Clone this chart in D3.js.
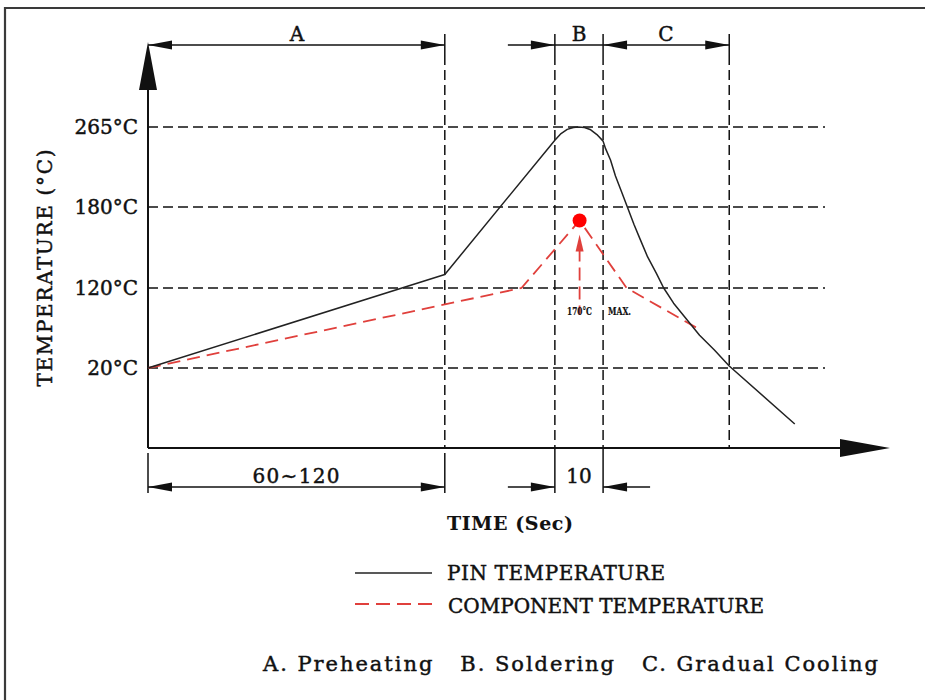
<!DOCTYPE html>
<html>
<head>
<meta charset="utf-8">
<script src="https://cdn.jsdelivr.net/npm/d3@7"></script>
<style>
  body { margin: 0; background: #fff; }
  text { font-family: "DejaVu Serif", serif; fill: #111; stroke: #111; stroke-width: 0.45px; }
</style>
</head>
<body>
<script>
// temperature levels marked on the axis (°C)
var tempTicks = [20, 120, 180, 265];
var tickLabels = ["20°C", "120°C", "180°C", "265°C"];

// stage boundaries on the time axis (schematic units)
var stageBounds = [0, 120, 164.5, 184, 235];

// pin temperature profile
var pinTime = [0, 120, 164.5, 167, 169.5, 172, 174, 176.5, 179, 181.5, 184, 185, 187, 189, 191.5, 194, 196.5, 199, 202, 205.5, 208.5, 212.5, 218, 223, 229, 235, 261.5];
var pinTemp = [20, 130, 251, 258, 262.5, 264.5, 265, 264.5, 262, 257, 250, 242, 230, 213, 196, 179, 167, 156, 143, 131, 120, 101, 80, 61, 42.5, 22.5, 6];

// component temperature profile
var compTime = [0, 151, 174.5, 193.5, 222];
var compTemp = [20, 120, 170, 120, 70];

var peakTime = 174.5, peakTemp = 170;

var W = 925, H = 700;
var svg = d3.select("body").append("svg")
    .attr("width", W).attr("height", H);

var x = d3.scaleLinear().domain([0, 300]).range([148, 890]);
var y = d3.scaleLinear().domain([0, 20, 120, 180, 265]).range([448, 368, 288, 207, 127]);

var ink = "#111";
var red = "#e0403c";
var gridEnd = 825;
var dimTop = 45, dimBot = 487;

// page frame
svg.append("path")
    .attr("d", "M5," + H + "V8H" + W)
    .attr("fill", "none").attr("stroke", "#3a3a3a").attr("stroke-width", 2.2);

// horizontal dashed levels
svg.selectAll(".hgrid").data(tempTicks).enter().append("line")
    .attr("x1", x(0)).attr("x2", gridEnd)
    .attr("y1", function(d){ return y(d); }).attr("y2", function(d){ return y(d); })
    .attr("stroke", ink).attr("stroke-width", 1.5).attr("stroke-dasharray", "10,5");

// vertical dashed stage lines
svg.selectAll(".vgrid").data(stageBounds.slice(1)).enter().append("line")
    .attr("x1", function(d){ return x(d); }).attr("x2", function(d){ return x(d); })
    .attr("y1", dimTop + 10).attr("y2", y(0))
    .attr("stroke", ink).attr("stroke-width", 1.5).attr("stroke-dasharray", "10,5");

// top extension ticks
svg.selectAll(".ttick").data(stageBounds.slice(1)).enter().append("line")
    .attr("x1", function(d){ return x(d); }).attr("x2", function(d){ return x(d); })
    .attr("y1", dimTop - 11).attr("y2", dimTop + 10)
    .attr("stroke", ink).attr("stroke-width", 1.5);

// bottom extension ticks (first four boundaries)
svg.selectAll(".btick").data(stageBounds.slice(0, 4)).enter().append("line")
    .attr("x1", function(d){ return x(d); }).attr("x2", function(d){ return x(d); })
    .attr("y1", function(d, i){ return i < 2 ? y(0) + 5 : y(0); }).attr("y2", dimBot + 6)
    .attr("stroke", ink).attr("stroke-width", 1.5);

function arrowHead(tipX, tipY, dir, len, hw) {
    // dir: 1 = pointing right, -1 = pointing left
    var b = tipX - dir * len;
    svg.append("path")
        .attr("d", "M" + tipX + "," + tipY + "L" + b + "," + (tipY - hw) + "L" + b + "," + (tipY + hw) + "Z")
        .attr("fill", ink);
}
function dimLine(x1, x2, yy) {
    svg.append("line").attr("x1", x1).attr("x2", x2).attr("y1", yy).attr("y2", yy)
        .attr("stroke", ink).attr("stroke-width", 1.5);
}

// top dimension: A
dimLine(x(stageBounds[0]), x(stageBounds[1]), dimTop);
arrowHead(x(stageBounds[0]), dimTop, -1, 24, 4.5);
arrowHead(x(stageBounds[1]), dimTop, 1, 24, 4.5);
// B (outside arrow)
dimLine(x(stageBounds[2]) - 47, x(stageBounds[2]), dimTop);
arrowHead(x(stageBounds[2]), dimTop, 1, 24, 4.5);
dimLine(x(stageBounds[2]), x(stageBounds[3]), dimTop);
// C
dimLine(x(stageBounds[3]), x(stageBounds[4]), dimTop);
arrowHead(x(stageBounds[3]), dimTop, -1, 24, 4.5);
arrowHead(x(stageBounds[4]), dimTop, 1, 24, 4.5);

// bottom dimension: 60~120
dimLine(x(stageBounds[0]), x(stageBounds[1]), dimBot);
arrowHead(x(stageBounds[0]), dimBot, -1, 24, 4.5);
arrowHead(x(stageBounds[1]), dimBot, 1, 24, 4.5);
// 10
dimLine(x(stageBounds[2]) - 47, x(stageBounds[2]), dimBot);
arrowHead(x(stageBounds[2]), dimBot, 1, 24, 4.5);
dimLine(x(stageBounds[3]), x(stageBounds[3]) + 47, dimBot);
arrowHead(x(stageBounds[3]), dimBot, -1, 24, 4.5);

// axes
svg.append("line").attr("x1", x(0)).attr("x2", x(0)).attr("y1", y(0)).attr("y2", 86)
    .attr("stroke", ink).attr("stroke-width", 2);
svg.append("path").attr("d", "M" + x(0) + ",42L" + (x(0) - 9) + ",90L" + (x(0) + 9) + ",90Z").attr("fill", ink);
svg.append("line").attr("x1", x(0)).attr("x2", x(300) - 48).attr("y1", y(0)).attr("y2", y(0))
    .attr("stroke", ink).attr("stroke-width", 2);
arrowHead(x(300), y(0), 1, 50, 9);

// tick labels
svg.selectAll(".tl").data(tempTicks).enter().append("text")
    .attr("x", 138).attr("y", function(d){ return y(d); }).attr("dy", "0.36em")
    .attr("text-anchor", "end").attr("font-size", 20)
    .text(function(d, i){ return tickLabels[i]; });

// curves
var pinData = pinTime.map(function(t, i){ return [t, pinTemp[i]]; });
var compData = compTime.map(function(t, i){ return [t, compTemp[i]]; });
var line = d3.line().x(function(d){ return x(d[0]); }).y(function(d){ return y(d[1]); });

svg.append("path").datum(compData).attr("d", line)
    .attr("fill", "none").attr("stroke", red).attr("stroke-width", 1.8).attr("stroke-dasharray", "13,7");
svg.append("path").datum(pinData).attr("d", line)
    .attr("fill", "none").attr("stroke", "#222").attr("stroke-width", 1.5).attr("stroke-linejoin", "round");

// peak marker and arrow
var px = x(peakTime), py = y(peakTemp);
svg.append("circle").attr("cx", px).attr("cy", py).attr("r", 7).attr("fill", "#f00");
svg.append("line").attr("x1", px).attr("x2", px).attr("y1", py + 28).attr("y2", y(120) + 27)
    .attr("stroke", red).attr("stroke-width", 1.8).attr("stroke-dasharray", "13,6");
svg.append("path").attr("d", "M" + px + "," + (py + 14) + "L" + (px - 4) + "," + (py + 31) + "L" + (px + 4) + "," + (py + 31) + "Z")
    .attr("fill", red);
svg.append("text").attr("x", 567).attr("y", y(120) + 27).attr("font-size", 11).attr("font-weight", "bold")
    .style("stroke-width", "0.2px")
    .attr("textLength", 25).attr("lengthAdjust", "spacingAndGlyphs").text("170°C");
svg.append("text").attr("x", 608).attr("y", y(120) + 27).attr("font-size", 11).attr("font-weight", "bold")
    .style("stroke-width", "0.2px")
    .attr("textLength", 23).attr("lengthAdjust", "spacingAndGlyphs").text("MAX.");

// stage letters
svg.append("text").attr("x", 297).attr("y", 41).attr("text-anchor", "middle").attr("font-size", 20).text("A");
svg.append("text").attr("x", 579).attr("y", 41).attr("text-anchor", "middle").attr("font-size", 20).text("B");
svg.append("text").attr("x", 666).attr("y", 41).attr("text-anchor", "middle").attr("font-size", 20).text("C");
svg.append("text").attr("x", 296).attr("y", 483).attr("text-anchor", "middle").attr("font-size", 20)
    .attr("textLength", 87).text("60~120");
svg.append("text").attr("x", 579).attr("y", 483).attr("text-anchor", "middle").attr("font-size", 20).text("10");

// axis titles
svg.append("text").attr("transform", "translate(52,268) rotate(-90)").attr("text-anchor", "middle")
    .attr("font-size", 20).attr("textLength", 237).text("TEMPERATURE (°C)");
svg.append("text").attr("x", 447).attr("y", 530).attr("font-size", 19).attr("font-weight", "bold")
    .style("stroke-width", "0.1px")
    .attr("textLength", 126).text("TIME (Sec)");

// legend
svg.append("line").attr("x1", 355).attr("x2", 432).attr("y1", 573).attr("y2", 573)
    .attr("stroke", "#222").attr("stroke-width", 1.5);
svg.append("line").attr("x1", 355).attr("x2", 432).attr("y1", 604).attr("y2", 604)
    .attr("stroke", red).attr("stroke-width", 1.8).attr("stroke-dasharray", "14,7");
svg.append("text").attr("x", 447).attr("y", 580).attr("font-size", 20).attr("textLength", 218).text("PIN TEMPERATURE");
svg.append("text").attr("x", 448).attr("y", 613).attr("font-size", 20).attr("textLength", 316).text("COMPONENT TEMPERATURE");

// stage key
svg.append("text").attr("x", 263).attr("y", 671).attr("font-size", 21).attr("textLength", 615)
    .attr("xml:space", "preserve").style("white-space", "pre")
    .text("A. Preheating   B. Soldering   C. Gradual Cooling");
</script>
</body>
</html>
